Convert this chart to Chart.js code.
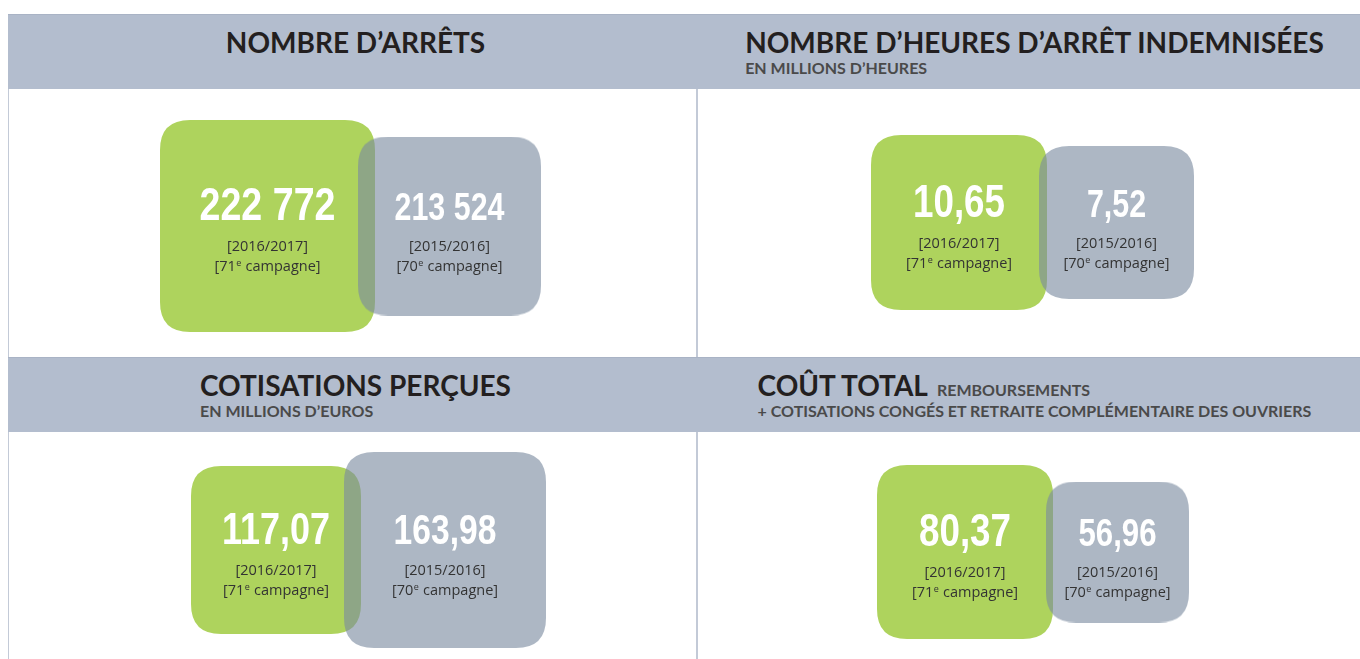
<!DOCTYPE html>
<html lang="fr">
<head>
<meta charset="utf-8">
<title>Chiffres clés – campagnes 2015/2016 et 2016/2017</title>
<script src="https://cdn.jsdelivr.net/npm/chart.js@4"></script>
<style>
  html, body { margin: 0; padding: 0; background: #fff; }
  body { width: 1360px; height: 659px; position: relative; overflow: hidden; font-family: Lato, "Open Sans", sans-serif; }
  .band { position: absolute; left: 8px; right: 0; height: 75px; background: #b3bdce; border-top: 1px solid #a9b3c5; box-sizing: border-box; }
  .rule { position: absolute; background: #c3cad7; }
  .head { position: absolute; text-align: center; box-sizing: border-box; padding-top: 14px; }
  .head .blk { display: inline-block; text-align: left; }
  .title { font-weight: 700; font-size: 28px; line-height: 28px; color: #231f20; white-space: nowrap; }
  .sub { font-weight: 700; font-size: 16px; line-height: 16px; color: #4a4a4a; margin-top: 4px; white-space: nowrap; }
  .title .sub { display: inline; margin: 0 0 0 9px; }
  canvas { position: absolute; }
</style>
</head>
<body>
  <div class="band" style="top:14px"></div>
  <div class="band" style="top:357px"></div>

  <div class="rule" style="left:8px; top:89px; width:1px; height:268px"></div>
  <div class="rule" style="left:8px; top:432px; width:1px; height:227px"></div>
  <div class="rule" style="left:696px; top:89px; width:2px; height:268px"></div>
  <div class="rule" style="left:696px; top:432px; width:2px; height:227px"></div>

  <div class="head" style="left:11px; width:689px; top:14px">
    <div class="blk"><div class="title">NOMBRE D’ARRÊTS</div></div>
  </div>
  <div class="head" style="left:709px; width:651px; top:14px">
    <div class="blk">
      <div class="title">NOMBRE D’HEURES D’ARRÊT INDEMNISÉES</div>
      <div class="sub">EN MILLIONS D’HEURES</div>
    </div>
  </div>
  <div class="head" style="left:11px; width:689px; top:357px">
    <div class="blk">
      <div class="title">COTISATIONS PERÇUES</div>
      <div class="sub">EN MILLIONS D’EUROS</div>
    </div>
  </div>
  <div class="head" style="left:709px; width:651px; top:357px">
    <div class="blk">
      <div class="title">COÛT TOTAL<span class="sub">REMBOURSEMENTS</span></div>
      <div class="sub">+ COTISATIONS CONGÉS ET RETRAITE COMPLÉMENTAIRE DES OUVRIERS</div>
    </div>
  </div>

  <canvas id="arrets" width="687" height="268" style="left:9px; top:89px"></canvas>
  <canvas id="heures" width="663" height="268" style="left:697px; top:89px"></canvas>
  <canvas id="cotisations" width="687" height="227" style="left:9px; top:432px"></canvas>
  <canvas id="cout" width="663" height="227" style="left:697px; top:432px"></canvas>

<script>
// the two campaigns compared in each panel
const seasons = ['2016/2017', '2015/2016'];
const campaigns = [71, 70];

// values, same order as seasons
const nbArrets = [222772, 213524];
const heuresIndemnisees = [10.65, 7.52];   // millions d'heures
const cotisationsPercues = [117.07, 163.98]; // millions d'euros
const coutTotal = [80.37, 56.96];

const GREEN = '#aed35d';
const GREY = 'rgba(122, 139, 160, 0.62)';

// box sizes, number font sizes and placement for each panel
const panels = [
    { id: 'arrets', values: nbArrets, decimals: 0,
      boxes: [[215, 212], [183, 179]], fonts: [47, 38],
      padding: { left: 167.5, right: 155.5, top: 56, bottom: 50 } },
    { id: 'heures', values: heuresIndemnisees, decimals: 2,
      boxes: [[176, 175], [155, 153]], fonts: [46, 38],
      padding: { left: 183.25, right: 164.75, top: 50, bottom: 51 } },
    { id: 'cotisations', values: cotisationsPercues, decimals: 2,
      boxes: [[170, 168], [202, 196]], fonts: [45, 42],
      padding: { left: 182.5, right: 166.5, top: 40, bottom: 31 } },
    { id: 'cout', values: coutTotal, decimals: 2,
      boxes: [[176, 174], [143, 141]], fonts: [46, 39],
      padding: { left: 191.75, right: 166.25, top: 40, bottom: 27 } }
];

function roundBox(w, h, r, color) {
    const c = document.createElement('canvas');
    c.width = w;
    c.height = h;
    const g = c.getContext('2d');
    g.fillStyle = color;
    g.beginPath();
    g.moveTo(r, 0);
    g.lineTo(w - r, 0);
    g.quadraticCurveTo(w, 0, w, r);
    g.lineTo(w, h - r);
    g.quadraticCurveTo(w, h, w - r, h);
    g.lineTo(r, h);
    g.quadraticCurveTo(0, h, 0, h - r);
    g.lineTo(0, r);
    g.quadraticCurveTo(0, 0, r, 0);
    g.closePath();
    g.fill();
    return c;
}

function frNumber(v, decimals) {
    const parts = v.toFixed(decimals).split('.');
    const int = parts[0].replace(/\B(?=(\d{3})+(?!\d))/g, ' ');
    return parts.length > 1 ? int + ',' + parts[1] : int;
}

function drawCampaign(ctx, cx, y, n) {
    const base = '14.5px "Open Sans"';
    const sup = '9px "Open Sans"';
    const a = '[' + n;
    const b = ' campagne]';
    ctx.font = base;
    const wa = ctx.measureText(a).width;
    const wb = ctx.measureText(b).width;
    ctx.font = sup;
    const we = ctx.measureText('e').width + 1;
    let x = cx - (wa + we + wb) / 2;
    ctx.textAlign = 'left';
    ctx.font = base;
    ctx.fillText(a, x, y);
    x += wa;
    ctx.font = sup;
    ctx.fillText('e', x + 0.5, y - 5);
    x += we;
    ctx.font = base;
    ctx.fillText(b, x, y);
}

// writes the value, season and campaign inside each box
const boxLabels = {
    id: 'boxLabels',
    afterDatasetsDraw(chart) {
        const ctx = chart.ctx;
        const p = chart.options.plugins.boxLabels;
        const raw = chart.data.datasets[0].data;
        chart.getDatasetMeta(0).data.forEach((pt, i) => {
            const { x, y } = pt.getProps(['x', 'y'], true);
            ctx.save();
            ctx.textBaseline = 'alphabetic';
            ctx.fillStyle = '#fff';
            ctx.textAlign = 'center';
            // condensed bold figures
            ctx.save();
            ctx.translate(x, y - 6);
            ctx.scale(0.8, 1);
            ctx.font = 'bold ' + p.fonts[i] + 'px "Liberation Sans", Arial, sans-serif';
            ctx.fillText(frNumber(raw[i].value, p.decimals), 0, 0);
            ctx.restore();
            ctx.fillStyle = '#333';
            ctx.font = '14.5px "Open Sans"';
            ctx.fillText('[' + raw[i].season + ']', x, y + 25);
            drawCampaign(ctx, x, y + 45, raw[i].campaign);
            ctx.restore();
        });
    }
};

panels.forEach(p => {
    const points = p.values.map((v, i) => ({
        x: seasons[i], y: 0, value: v, season: seasons[i], campaign: campaigns[i]
    }));
    const styles = p.boxes.map((b, i) => roundBox(b[0], b[1], 30, i === 0 ? GREEN : GREY));

    new Chart(document.getElementById(p.id), {
        type: 'scatter',
        data: {
            datasets: [{
                data: points,
                pointStyle: styles,
                pointRadius: 10,
                clip: false
            }]
        },
        options: {
            responsive: false,
            animation: false,
            events: [],
            layout: { padding: p.padding },
            plugins: {
                legend: { display: false },
                tooltip: { enabled: false },
                boxLabels: { fonts: p.fonts, decimals: p.decimals }
            },
            scales: {
                x: { type: 'category', labels: seasons, offset: true, display: false },
                y: { type: 'linear', min: -1, max: 1, display: false }
            }
        },
        plugins: [boxLabels]
    });
});
</script>
</body>
</html>
